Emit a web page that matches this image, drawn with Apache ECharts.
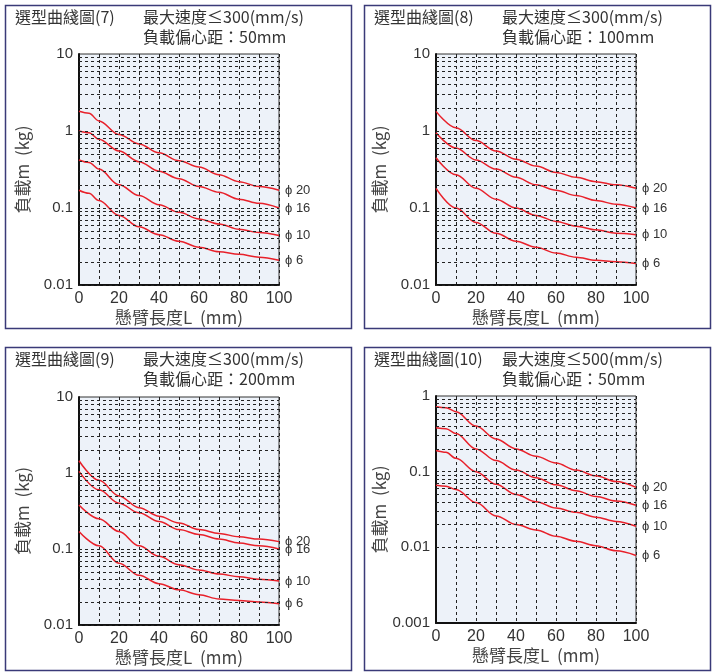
<!DOCTYPE html>
<html><head><meta charset="utf-8">
<script src="https://cdn.jsdelivr.net/npm/echarts@6/dist/echarts.min.js"></script>
<style>html,body{margin:0;padding:0;background:#fff}#c{width:712px;height:672px}</style>
</head><body><div id="c"></div>
<script>
var xs = [0, 5, 10, 20, 30, 40, 50, 60, 70, 80, 90, 100];
var xs2 = [0, 10, 20, 30, 40, 50, 60, 70, 80, 90, 100];
var names = ['\u03d5 20', '\u03d5 16', '\u03d5 10', '\u03d5 6'];

var p7 = [
	[1.8, 1.7, 1.35, 0.9, 0.68, 0.52, 0.41, 0.34, 0.27, 0.22, 0.19, 0.17],
	[1.0, 0.95, 0.78, 0.55, 0.4, 0.3, 0.24, 0.19, 0.16, 0.13, 0.115, 0.1],
	[0.42, 0.39, 0.32, 0.2, 0.145, 0.11, 0.088, 0.072, 0.062, 0.053, 0.048, 0.044],
	[0.17, 0.155, 0.125, 0.08, 0.057, 0.045, 0.037, 0.031, 0.027, 0.025, 0.023, 0.021]
];
var p8 = [
	[1.8, 1.1, 0.75, 0.55, 0.43, 0.35, 0.29, 0.25, 0.22, 0.2, 0.18],
	[0.95, 0.6, 0.42, 0.32, 0.25, 0.2, 0.17, 0.145, 0.125, 0.112, 0.1],
	[0.45, 0.27, 0.18, 0.13, 0.1, 0.08, 0.067, 0.058, 0.052, 0.047, 0.045],
	[0.18, 0.1, 0.065, 0.047, 0.037, 0.031, 0.026, 0.023, 0.021, 0.02, 0.019]
];
var p9 = [
	[1.45, 0.8, 0.5, 0.35, 0.27, 0.22, 0.18, 0.16, 0.145, 0.135, 0.125],
	[1.05, 0.6, 0.4, 0.3, 0.23, 0.18, 0.155, 0.135, 0.12, 0.11, 0.1],
	[0.38, 0.25, 0.17, 0.11, 0.08, 0.062, 0.053, 0.047, 0.043, 0.04, 0.038],
	[0.17, 0.11, 0.065, 0.045, 0.035, 0.029, 0.025, 0.022, 0.021, 0.02, 0.019]
];
var p10 = [
	[0.72, 0.7, 0.62, 0.4, 0.27, 0.2, 0.16, 0.13, 0.105, 0.088, 0.074, 0.062],
	[0.38, 0.37, 0.32, 0.2, 0.14, 0.105, 0.083, 0.067, 0.056, 0.047, 0.041, 0.036],
	[0.19, 0.18, 0.15, 0.1, 0.068, 0.05, 0.04, 0.033, 0.029, 0.025, 0.022, 0.019],
	[0.066, 0.064, 0.058, 0.039, 0.026, 0.02, 0.017, 0.014, 0.012, 0.0105, 0.009, 0.0078]
];

var panels = [
	{ t1: '選型曲綫圖(7)', t2: '最大速度≤300(mm/s)', t3: '負載偏心距：50mm', box: [3, 3], grid: [79, 54, 231], ymin: 0.01, ymax: 10, x: xs, d: p7 },
	{ t1: '選型曲綫圖(8)', t2: '最大速度≤300(mm/s)', t3: '負載偏心距：100mm', box: [362, 3], grid: [436, 54, 231], ymin: 0.01, ymax: 10, x: xs2, d: p8 },
	{ t1: '選型曲綫圖(9)', t2: '最大速度≤300(mm/s)', t3: '負載偏心距：200mm', box: [3, 345], grid: [79, 397, 228], ymin: 0.01, ymax: 10, x: xs2, d: p9 },
	{ t1: '選型曲綫圖(10)', t2: '最大速度≤500(mm/s)', t3: '負載偏心距：50mm', box: [362, 345], grid: [436, 396, 227], ymin: 0.001, ymax: 1, x: xs, d: p10 }
];

var font = '"Noto Sans CJK TC", "Noto Sans", sans-serif';
var grids = [], xAxes = [], yAxes = [], series = [], graphics = [];

panels.forEach(function (p, i) {
	// minor horizontal grid lines at 1..9 of each decade
	var minors = [];
	for (var dec = p.ymin; dec < p.ymax * 0.999; dec *= 10) {
		for (var k = 1; k <= 9; k++) minors.push({ yAxis: +(dec * k).toPrecision(3) });
	}
	grids.push({
		left: p.grid[0], top: p.grid[1], width: 200, height: p.grid[2],
		show: true, backgroundColor: '#edf2f9', borderColor: '#333', borderWidth: 1
	});
	xAxes.push({
		gridIndex: i, type: 'value', min: 0, max: 100, interval: 10,
		name: '懸臂長度L  (mm)', nameLocation: 'middle', nameGap: 24,
		nameTextStyle: { fontSize: 17, color: '#444', fontFamily: font },
		axisLine: { lineStyle: { color: '#111', width: 2 } },
		axisTick: { show: false },
		axisLabel: { fontSize: 16, color: '#333', margin: 6, formatter: function (v) { return v % 20 === 0 ? v : ''; } },
		splitLine: { lineStyle: { color: '#222', type: [3, 3], width: 1 } }
	});
	yAxes.push({
		gridIndex: i, type: 'log', logBase: 10, min: p.ymin, max: p.ymax,
		name: '負載m  (kg)', nameLocation: 'middle', nameGap: 48,
		nameTextStyle: { fontSize: 17, color: '#444', fontFamily: font },
		axisLine: { lineStyle: { color: '#111', width: 2 } },
		axisTick: { show: false },
		axisLabel: { fontSize: 15, color: '#333', margin: 6 },
		splitLine: { show: false }
	});
	p.d.forEach(function (vals, j) {
		series.push({
			type: 'line', xAxisIndex: i, yAxisIndex: i, name: names[j],
			smooth: 0.35, smoothMonotone: 'x', showSymbol: false, silent: true,
			lineStyle: { color: '#e8202a', width: 1.5 },
			data: p.x.map(function (x, k) { return [x, vals[k]]; }),
			endLabel: { show: true, formatter: names[j], color: '#333', fontSize: 13, distance: 6 },
			markLine: j === 0 ? {
				silent: true, symbol: 'none', label: { show: false },
				lineStyle: { color: '#222', type: [3, 3], width: 1 },
				data: minors
			} : undefined
		});
	});
	graphics.push({
		type: 'rect', left: p.box[0], top: p.box[1], silent: true,
		shape: { width: 346, height: 323 },
		style: { fill: 'none', stroke: '#3a3a78', lineWidth: 1.5 }
	});
	graphics.push({
		type: 'text', left: p.box[0] + 12, top: p.box[1] + 6,
		style: { text: p.t1, font: '16px ' + font, fill: '#333' }
	});
	graphics.push({
		type: 'text', left: p.box[0] + 140, top: p.box[1] + 6,
		style: { text: p.t2, font: '16px ' + font, fill: '#333' }
	});
	graphics.push({
		type: 'text', left: p.box[0] + 140, top: p.box[1] + 26,
		style: { text: p.t3, font: '16px ' + font, fill: '#333' }
	});
});

var chart = echarts.init(document.getElementById('c'));
chart.setOption({
	animation: false,
	grid: grids, xAxis: xAxes, yAxis: yAxes, series: series, graphic: graphics
});
</script>
</body></html>
